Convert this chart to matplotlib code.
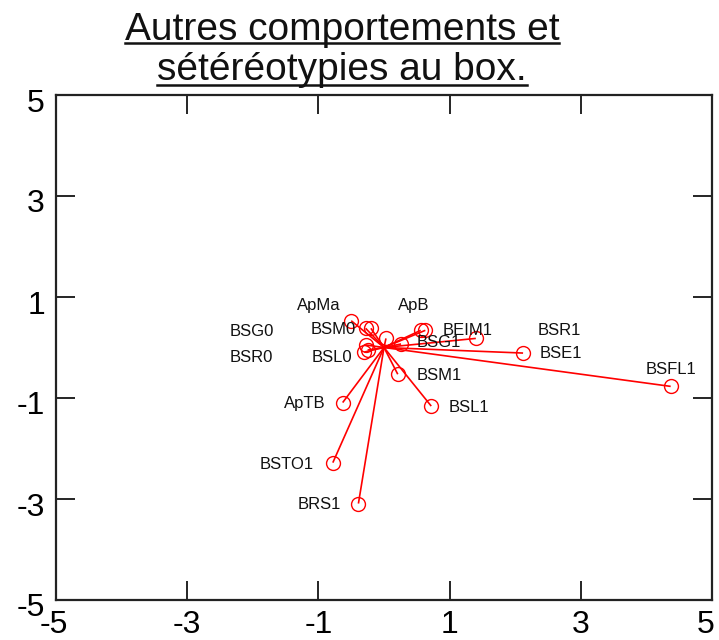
import matplotlib
matplotlib.use("Agg")
import matplotlib.pyplot as plt
from matplotlib.lines import Line2D
from matplotlib.transforms import ScaledTranslation

# Variable coordinates on the first two factorial axes
variables = ["BSFL1", "BSE1", "BSR1", "ApMa", "BSM0", "BSG0", "", "ApB", "BEIM1",
             "BSG1", "BSM1", "BSL1", "ApTB", "BSTO1", "BRS1", "BSR0", "BSL0", ""]
axis1 = [4.37, 2.12, 1.40, -0.50, -0.20, -0.28, 0.03, 0.56, 0.63,
         0.26, 0.21, 0.72, -0.63, -0.78, -0.39, -0.30, -0.25, -0.28]
axis2 = [-0.77, -0.11, 0.18, 0.53, 0.38, 0.38, 0.18, 0.34, 0.34,
         0.07, -0.53, -1.16, -1.09, -2.28, -3.09, -0.09, -0.05, 0.05]

ticks = [-5, -3, -1, 1, 3, 5]
title_lines = ["Autres comportements et", "sétéréotypies au box."]

# Where each variable name is written (data coordinates, text centre)
label_pos = {
    "BSFL1": (4.37, -0.43), "BSE1": (2.70, -0.11), "BSR1": (2.67, 0.34),
    "ApMa": (-0.99, 0.84), "BSM0": (-0.77, 0.36), "BSG0": (-2.02, 0.32),
    "ApB": (0.46, 0.84), "BEIM1": (1.27, 0.34), "BSG1": (0.84, 0.09),
    "BSM1": (0.84, -0.55), "BSL1": (1.30, -1.18), "ApTB": (-1.21, -1.10),
    "BSTO1": (-1.49, -2.31), "BRS1": (-0.98, -3.11), "BSR0": (-2.02, -0.19),
    "BSL0": (-0.80, -0.19),
}

plt.rcParams["font.family"] = ["Liberation Sans", "DejaVu Sans"]

fig = plt.figure(figsize=(7.19, 6.40), dpi=100)
ax = fig.add_axes([56 / 719, 40 / 640, 656 / 719, 505 / 640])

red = "#ff0000"
for x, y in zip(axis1, axis2):
    ax.plot([0, x], [0, y], color=red, lw=1.2, solid_capstyle="butt", zorder=2)
ax.plot(axis1, axis2, linestyle="none", marker="o", markersize=10,
        markerfacecolor="none", markeredgecolor=red, markeredgewidth=1.0, zorder=3)

for name in variables:
    if name:
        lx, ly = label_pos[name]
        ax.text(lx, ly, name, ha="center", va="center", fontsize=12,
                color="#111111", zorder=4)

ax.set_xlim(-5, 5)
ax.set_ylim(-5, 5)
ax.set_xticks(ticks)
ax.set_yticks(ticks)
ax.set_xticklabels([str(t) for t in ticks])
ax.set_yticklabels([str(t) for t in ticks])
ax.tick_params(axis="both", direction="in", length=14, width=1.2,
               labelsize=23, top=True, right=True, color="black")
ax.tick_params(axis="x", pad=7)
ax.tick_params(axis="y", pad=8)

# y labels sit a little below their ticks; the end x labels are kept inside
down = ScaledTranslation(0, -5 / 100, fig.dpi_scale_trans)
for lab in ax.get_yticklabels():
    lab.set_transform(lab.get_transform() + down)
xlabs = ax.get_xticklabels()
xlabs[-1].set_transform(xlabs[-1].get_transform()
                        + ScaledTranslation(-6 / 100, 0, fig.dpi_scale_trans))
xlabs[0].set_transform(xlabs[0].get_transform()
                       + ScaledTranslation(-2 / 100, 0, fig.dpi_scale_trans))

for s in ax.spines.values():
    s.set_linewidth(1.6)
    s.set_color("#222222")

# Underlined two-line title
fig.canvas.draw()
renderer = fig.canvas.get_renderer()
title_base = [40, 80]
underline = [43, 85]
for line, tb, ub in zip(title_lines, title_base, underline):
    ty = 1 - tb / 640
    t = fig.text(342 / 719, ty, line, ha="center", va="baseline",
                 fontsize=28, color="#111111")
    bb = t.get_window_extent(renderer=renderer).transformed(fig.transFigure.inverted())
    uy = 1 - ub / 640
    fig.add_artist(Line2D([bb.x0, bb.x1], [uy, uy], transform=fig.transFigure,
                          color="#111111", lw=1.8))

fig.savefig("out.png", dpi=100)
